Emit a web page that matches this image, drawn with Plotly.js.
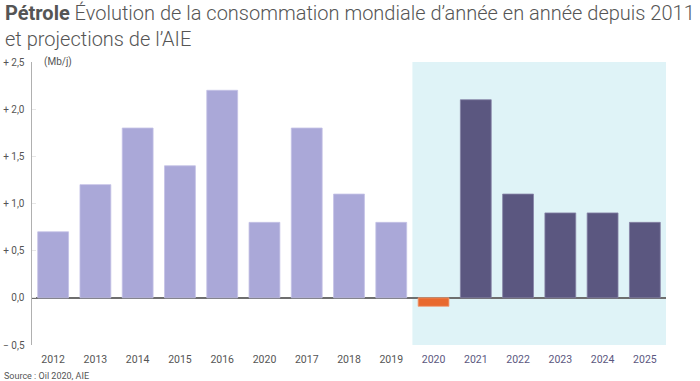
<!DOCTYPE html>
<html>
<head>
<meta charset="utf-8">
<script src="https://cdn.plot.ly/plotly-3.0.1.min.js"></script>
<style>html,body{margin:0;padding:0;background:#fff;}#chart{width:700px;height:381px;}</style>
</head>
<body>
<div id="chart"></div>
<script>
// Data
const categories = ["2012","2013","2014","2015","2016","2020","2017","2018","2019","2020","2021","2022","2023","2024","2025"];
const values = [0.7, 1.2, 1.8, 1.4, 2.2, 0.8, 1.8, 1.1, 0.8, -0.09, 2.1, 1.1, 0.9, 0.9, 0.8];
const yTickVals = [-0.5, 0, 0.5, 1.0, 1.5, 2.0, 2.5];
const yTickText = ["− 0,5", "0,0", "+ 0,5", "+ 1,0", "+ 1,5", "+ 2,0", "+ 2,5"];
const projectionStart = 9; // index of first projected year
const titleText = "<b>Pétrole</b> Évolution de la consommation mondiale d’année en année depuis 2011<br>et projections de l’AIE";
const unitText = "(Mb/j)";
const sourceText = "Source : Oil 2020, AIE";

const idx = categories.map((c, i) => i);
const LIGHT = "#aaa8d8", DARK = "#5b5780", ORANGE = "#e8692f";
const barColors = values.map((v, i) => i < projectionStart ? LIGHT : (v < 0 ? ORANGE : DARK));
const lineColors = values.map((v, i) => i < projectionStart ? "#c4c2e6" : (v < 0 ? "#f0a07a" : "#8683a6"));
const tickText = categories.map((c, i) => i < projectionStart ? c : '<span style="fill:#5b5780">' + c + '</span>');

const trace = {
  type: "bar",
  x: idx,
  y: values,
  marker: { color: barColors, line: { color: lineColors, width: 0.8 } },
  hoverinfo: "skip"
};

const plotH = 381 - 62 - 36, plotW = 700 - 32 - 34;

const layout = {
  width: 700, height: 381,
  margin: { l: 32, r: 34, t: 62, b: 36 },
  paper_bgcolor: "#fff", plot_bgcolor: "rgba(0,0,0,0)",
  font: { family: "Roboto, 'Noto Sans', sans-serif", color: "#555", size: 10 },
  showlegend: false,
  bargap: 0.27,
  xaxis: {
    range: [-0.5, categories.length - 0.5],
    tickvals: idx, ticktext: tickText,
    showgrid: false, zeroline: false, showline: false,
    ticks: "", ticklabelstandoff: 6,
    tickfont: { size: 10.5, color: "#555" },
    fixedrange: true
  },
  yaxis: {
    range: [-0.5, 2.5],
    tickvals: yTickVals, ticktext: yTickText,
    showgrid: false,
    zeroline: true, zerolinecolor: "#6e6e6e", zerolinewidth: 1.5,
    showline: true, linecolor: "#b0b0b0", linewidth: 1.5,
    ticks: "inside", ticklen: 4, tickcolor: "#e6e6e6", tickwidth: 1,
    tickfont: { size: 10, color: "#555" },
    ticklabelstandoff: 4,
    fixedrange: true
  },
  shapes: [{
    type: "rect", xref: "x", yref: "y", layer: "below",
    x0: projectionStart - 0.5, x1: categories.length - 0.5, y0: -0.5, y1: 2.5,
    fillcolor: "#dff3f7", line: { width: 0 }
  }],
  annotations: [
    { text: titleText, xref: "paper", yref: "paper",
      x: -29 / plotW, y: 1 + (62 + 1) / plotH, xanchor: "left", yanchor: "top", align: "left",
      showarrow: false, font: { family: "Roboto, sans-serif", size: 20, color: "#555", weight: 300 } },
    { text: unitText, xref: "paper", yref: "paper", x: 0.015, y: 1.0, xanchor: "left", yanchor: "middle",
      showarrow: false, font: { size: 10, color: "#555" } },
    { text: sourceText, xref: "paper", yref: "paper", x: -30 / plotW, y: -31 / plotH, xanchor: "left", yanchor: "middle",
      showarrow: false, font: { size: 9, color: "#555" } }
  ]
};

Plotly.newPlot("chart", [trace], layout, { displayModeBar: false, staticPlot: true });
</script>
</body>
</html>
